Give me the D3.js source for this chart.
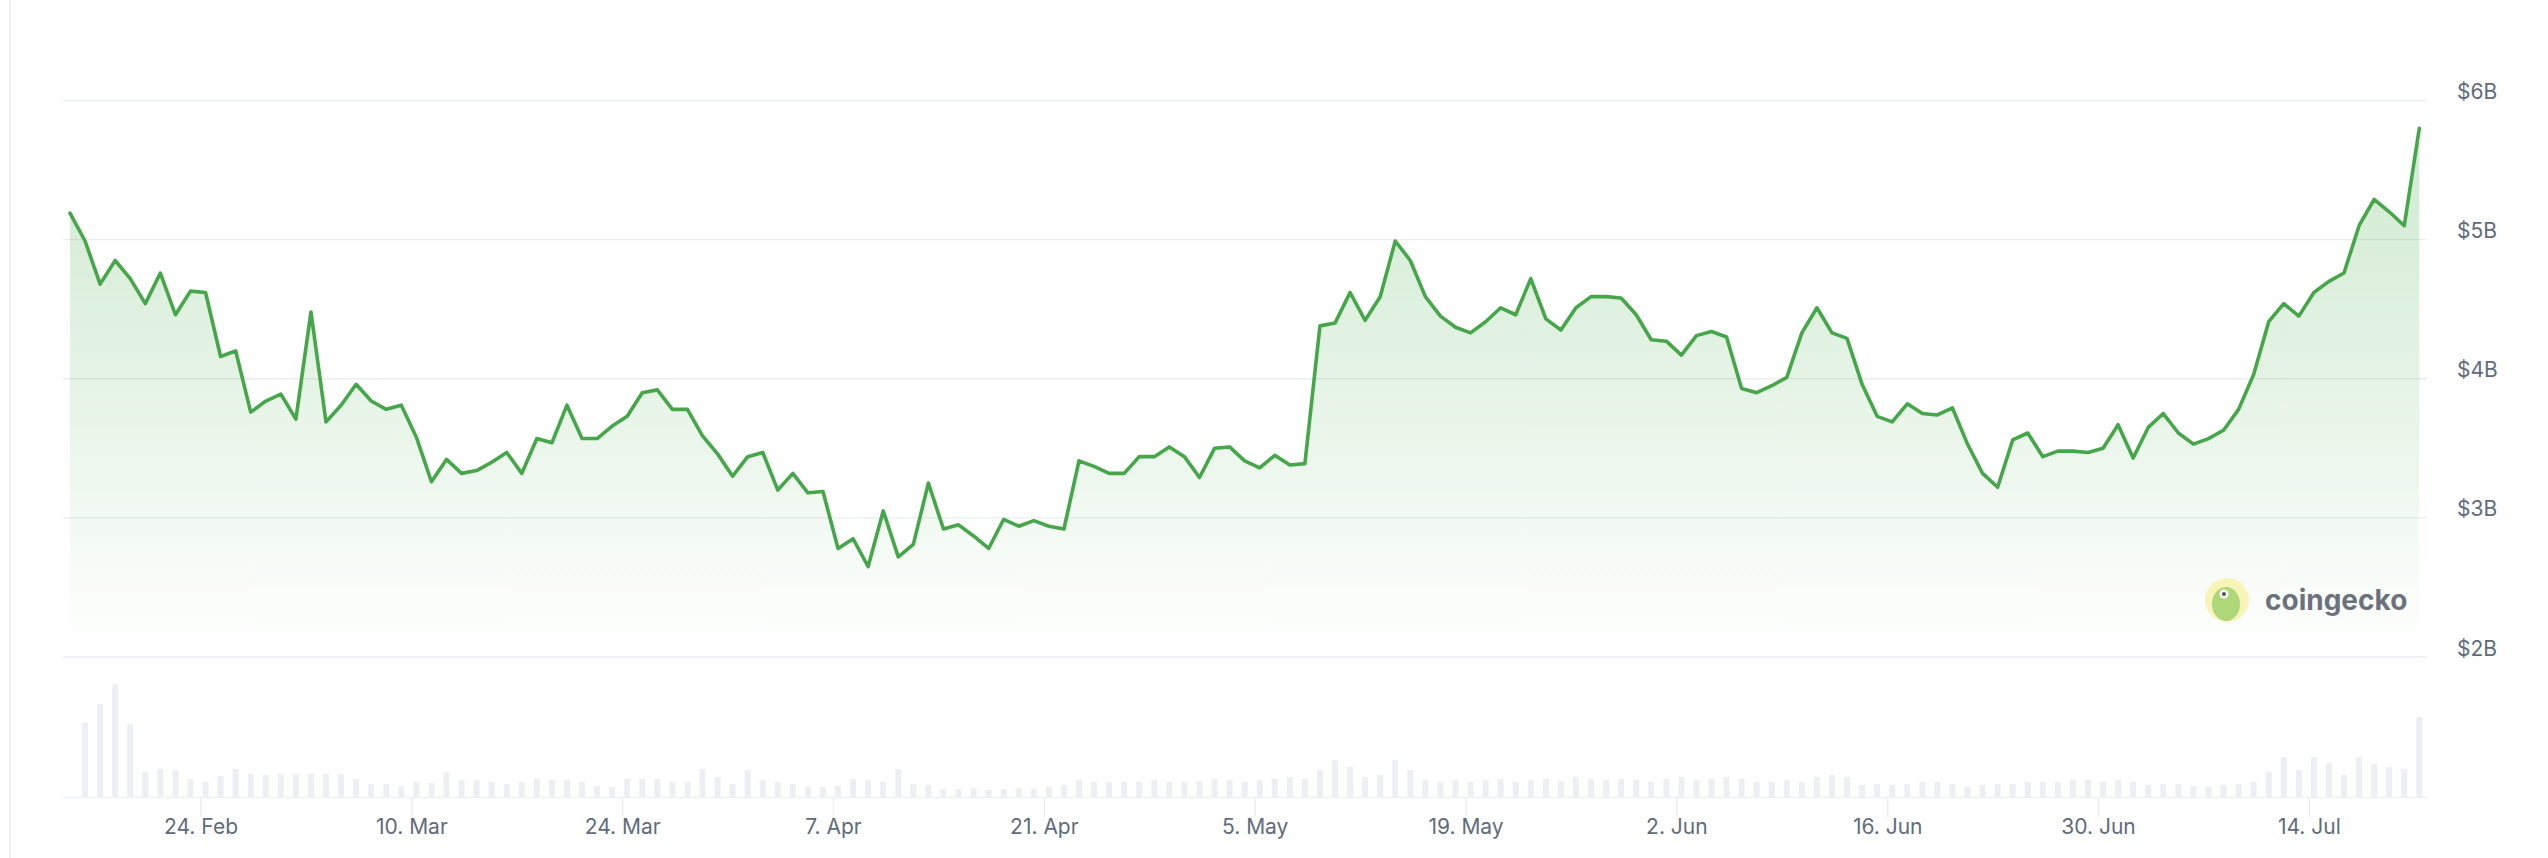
<!DOCTYPE html>
<html>
<head>
<meta charset="utf-8">
<script src="https://cdn.jsdelivr.net/npm/d3@7"></script>
<style>
  html, body { margin: 0; padding: 0; background: #ffffff; }
  svg { display: block; font-family: "Inter", "Noto Sans", "DejaVu Sans", sans-serif; }
</style>
</head>
<body>
<svg id="chart" width="2548" height="858"></svg>
<script>
// ---- Data (daily) ----
const startDate = "2025-02-15T08:00:00Z";
const values = [ // market cap, $B
  5.19, 4.99, 4.68, 4.85, 4.72, 4.54, 4.76, 4.46, 4.63, 4.62, 4.16, 4.20, 3.76, 3.84, 3.89, 3.71, 4.48, 3.69, 3.81, 3.96, 3.84, 3.78, 3.81, 3.58, 3.26, 3.42,
  3.32, 3.34, 3.40, 3.47, 3.32, 3.57, 3.54, 3.81, 3.57, 3.57, 3.66, 3.73, 3.90, 3.92, 3.78, 3.78, 3.59, 3.46, 3.30, 3.44, 3.47, 3.20, 3.32, 3.18, 3.19, 2.78,
  2.85, 2.65, 3.05, 2.72, 2.81, 3.25, 2.92, 2.95, 2.87, 2.78, 2.99, 2.94, 2.98, 2.94, 2.92, 3.41, 3.37, 3.32, 3.32, 3.44, 3.44, 3.51, 3.44, 3.29, 3.50, 3.51,
  3.41, 3.36, 3.45, 3.38, 3.39, 4.38, 4.40, 4.62, 4.42, 4.59, 4.99, 4.85, 4.59, 4.45, 4.37, 4.33, 4.41, 4.51, 4.46, 4.72, 4.43, 4.35, 4.51, 4.59, 4.59, 4.58,
  4.46, 4.28, 4.27, 4.17, 4.31, 4.34, 4.30, 3.93, 3.90, 3.95, 4.01, 4.33, 4.51, 4.33, 4.29, 3.96, 3.73, 3.69, 3.82, 3.75, 3.74, 3.79, 3.53, 3.32, 3.22, 3.56,
  3.61, 3.44, 3.48, 3.48, 3.47, 3.50, 3.67, 3.43, 3.65, 3.75, 3.61, 3.53, 3.57, 3.63, 3.78, 4.03, 4.41, 4.54, 4.45, 4.62, 4.70, 4.76, 5.10, 5.29, 5.20, 5.10, 5.80
];
const volumes = [ // relative trading volume
  0, 74, 93, 113, 73, 25, 28, 27, 18, 15, 21, 28, 23, 22, 23, 23, 23, 23, 23, 18, 13, 13, 11, 15, 14, 25, 17, 17, 15, 13, 15, 18, 17, 17, 15, 11, 10, 18, 18, 18, 15, 15, 28, 20, 13, 27, 17, 15, 13, 10, 10, 11,
  18, 17, 15, 28, 13, 12, 8, 8, 9, 7, 8, 9, 8, 10, 12, 17, 15, 15, 15, 15, 17, 15, 15, 16, 18, 17, 15, 17, 18, 20, 18, 27, 37, 30, 20, 22, 37, 27, 17, 15, 17, 15, 17, 18, 15, 17, 18, 16, 20, 18, 17, 18, 17, 15, 18, 20, 17,
  18, 20, 18, 15, 15, 17, 15, 20, 22, 20, 12, 13, 12, 13, 15, 15, 13, 10, 12, 13, 13, 15, 15, 15, 17, 17, 15, 17, 15, 12, 13, 13, 11, 10, 12, 13, 15, 25, 40, 27, 40, 34, 22, 40, 33, 30, 28, 80
];
const yTicks = [2, 3, 4, 5, 6];
const xTickDates = ["2025-02-24", "2025-03-10", "2025-03-24", "2025-04-07", "2025-04-21", "2025-05-05",
                    "2025-05-19", "2025-06-02", "2025-06-16", "2025-06-30", "2025-07-14"];

// ---- Build ----
const start = new Date(startDate);
const dates = values.map((_, i) => d3.utcDay.offset(start, i));
const data = values.map((v, i) => ({ date: dates[i], value: v, volume: volumes[i] }));

const svg = d3.select("#chart");
svg.append("rect").attr("width", 2548).attr("height", 858).attr("fill", "#ffffff");

const x = d3.scaleUtc().domain([dates[0], dates[dates.length - 1]]).range([70, 2419.3]);
const y = d3.scaleLinear().domain([2, 6]).range([657, 100.5]);
const yVol = d3.scaleLinear().domain([0, 120]).range([797, 677]);

// left card border
svg.append("line").attr("x1", 10).attr("x2", 10).attr("y1", 0).attr("y2", 858)
  .attr("stroke", "#eef0f3").attr("stroke-width", 2);

// gridlines
svg.append("g").selectAll("line").data(yTicks).join("line")
  .attr("x1", 63).attr("x2", 2427)
  .attr("y1", d => y(d)).attr("y2", d => y(d))
  .attr("stroke", "#ebedf0").attr("stroke-width", 1.3);

// gradient
const defs = svg.append("defs");
const grad = defs.append("linearGradient").attr("id", "areaGrad")
  .attr("gradientUnits", "userSpaceOnUse").attr("x1", 0).attr("x2", 0).attr("y1", 120).attr("y2", 657);
grad.append("stop").attr("offset", 0).attr("stop-color", "#4caf50").attr("stop-opacity", 0.27);
grad.append("stop").attr("offset", 0.5).attr("stop-color", "#4caf50").attr("stop-opacity", 0.14);
grad.append("stop").attr("offset", 1).attr("stop-color", "#4caf50").attr("stop-opacity", 0.0);

// volume bars
svg.append("g").selectAll("rect").data(data.filter(d => d.volume > 0)).join("rect")
  .attr("x", d => x(d.date) - 3)
  .attr("width", 6)
  .attr("y", d => yVol(d.volume))
  .attr("height", d => yVol(0) - yVol(d.volume))
  .attr("fill", "#edeff3");

// volume baseline
svg.append("line").attr("x1", 63).attr("x2", 2427).attr("y1", 797.5).attr("y2", 797.5)
  .attr("stroke", "#f0f1f4").attr("stroke-width", 1.5);

// area + line
const area = d3.area().x(d => x(d.date)).y0(y(2)).y1(d => y(d.value));
svg.append("path").datum(data).attr("d", area).attr("fill", "url(#areaGrad)");
const line = d3.line().x(d => x(d.date)).y(d => y(d.value));
svg.append("path").datum(data).attr("d", line)
  .attr("fill", "none").attr("stroke", "#46a64a").attr("stroke-width", 3.6)
  .attr("stroke-linejoin", "round").attr("stroke-linecap", "round");

// y axis (right)
const yAxis = d3.axisRight(y).tickValues(yTicks).tickSize(0).tickPadding(0)
  .tickFormat(d => "$" + d + "B");
const gy = svg.append("g").attr("transform", "translate(2457,0)").call(yAxis);
gy.select(".domain").remove();
gy.selectAll("text").attr("dy", "-2").attr("fill", "#5f6b7c")
  .style("font-size", "21px").style("font-family", "Inter, 'Noto Sans', sans-serif");

// x axis
const xAxis = d3.axisBottom(x).tickValues(xTickDates.map(s => new Date(s + "T00:00:00Z")))
  .tickSize(20).tickPadding(0).tickFormat(d3.utcFormat("%-d. %b"));
const gx = svg.append("g").attr("transform", "translate(0,797)").call(xAxis);
gx.select(".domain").remove();
gx.selectAll(".tick line").attr("stroke", "#eceef1").attr("stroke-width", 1.5);
gx.selectAll("text").attr("y", 37).attr("dy", 0).attr("fill", "#5f6b7c")
  .style("font-size", "21px").style("font-family", "Inter, 'Noto Sans', sans-serif");

// coingecko watermark
const wm = svg.append("g").attr("transform", "translate(2227,600)").attr("opacity", 0.9);
wm.append("circle").attr("r", 22).attr("fill", "#f7f2a6").attr("opacity", 0.85);
wm.append("ellipse").attr("cx", -1).attr("cy", 4).attr("rx", 14).attr("ry", 17).attr("fill", "#a6d36a");
wm.append("circle").attr("cx", -3).attr("cy", -6).attr("r", 4.5).attr("fill", "#ffffff");
wm.append("circle").attr("cx", -3).attr("cy", -6).attr("r", 2).attr("fill", "#3b4b3a");
svg.append("text").attr("x", 2265).attr("y", 610).text("coingecko")
  .attr("fill", "#5d6470").attr("opacity", 0.9)
  .style("font-size", "28px").style("font-weight", "700")
  .style("font-family", "Inter, 'Noto Sans', sans-serif");
</script>
</body>
</html>
